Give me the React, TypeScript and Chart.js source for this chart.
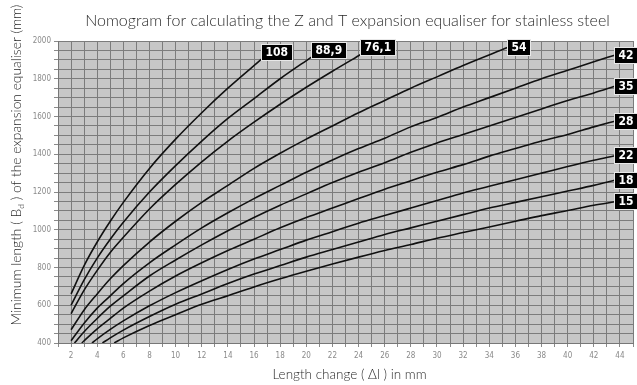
import React, { useEffect, useRef } from 'react';
import { Chart, registerables } from 'chart.js';

Chart.register(...registerables);

// ---- text ----
const TITLE = 'Nomogram for calculating the Z and T expansion equaliser for stainless steel';
const X_TITLE = 'Length change ( \u0394l ) in mm';
const Y_TITLE_MAIN = 'Minimum length ( B';
const Y_TITLE_SUB = 'd';
const Y_TITLE_END = ' ) of the expansion equaliser (mm)';

// ---- axes ----
const X_MIN = 1;
const X_MAX = 45;
const X_STEP = 1;
const X_LABEL_EVERY = 2;
const Y_MIN = 400;
const Y_MAX = 2000;
const Y_STEP = 50;
const Y_LABEL_EVERY = 200;

// ---- series: pipe outer diameter labels ----
const PIPE_SIZES = ['108', '88,9', '76,1', '54', '42', '35', '28', '22', '18', '15'];

// each series: [length change Δl (mm), minimum length Bd (mm)]
const S108: [number, number][] = [[2, 660], [3, 810], [4, 935], [5, 1045], [6, 1145], [8, 1325], [10, 1480], [12, 1620], [14, 1750], [16.6, 1905]];
const S88_9: [number, number][] = [[2, 600], [3, 735], [4, 850], [5, 950], [6, 1040], [8, 1200], [10, 1340], [12, 1470], [14, 1590], [16, 1695], [18, 1800], [20.4, 1915]];
const S76_1: [number, number][] = [[2, 555], [3, 680], [4, 785], [5, 880], [6, 960], [8, 1110], [10, 1240], [12, 1360], [14, 1470], [16, 1570], [18, 1665], [20, 1755], [22, 1840], [24.2, 1930]];
const S54: [number, number][] = [[2, 470], [3, 575], [4, 660], [5, 740], [6, 810], [8, 935], [10, 1045], [12, 1145], [14, 1235], [16, 1325], [18, 1405], [20, 1480], [22, 1550], [24, 1620], [26, 1685], [28, 1750], [30, 1810], [32, 1870], [35.4, 1965]];
const S42: [number, number][] = [[2, 412], [3, 505], [4, 585], [5, 650], [6, 715], [8, 825], [10, 920], [12, 1010], [14, 1090], [16, 1165], [18, 1235], [20, 1305], [22, 1370], [24, 1430], [26, 1485], [28, 1545], [30, 1595], [32, 1650], [34, 1700], [36, 1750], [38, 1800], [40, 1845], [42, 1890], [43.6, 1925]];
const S35: [number, number][] = [[2.26, 400], [3, 460], [4, 530], [5, 595], [6, 650], [8, 755], [10, 840], [12, 920], [14, 995], [16, 1065], [18, 1130], [20, 1190], [22, 1250], [24, 1305], [26, 1355], [28, 1410], [30, 1460], [32, 1505], [34, 1550], [36, 1595], [38, 1640], [40, 1685], [42, 1725], [43.6, 1760]];
const S28: [number, number][] = [[2.82, 400], [3, 412], [4, 475], [5, 530], [6, 585], [8, 675], [10, 755], [12, 825], [14, 890], [16, 950], [18, 1010], [20, 1065], [22, 1115], [24, 1165], [26, 1215], [28, 1260], [30, 1305], [32, 1345], [34, 1390], [36, 1430], [38, 1470], [40, 1505], [42, 1545], [43.6, 1575]];
const S22: [number, number][] = [[3.6, 400], [4, 422], [5, 472], [6, 517], [8, 597], [10, 667], [12, 730], [14, 790], [16, 845], [18, 895], [20, 945], [22, 990], [24, 1035], [26, 1075], [28, 1115], [30, 1155], [32, 1195], [34, 1230], [36, 1265], [38, 1300], [40, 1335], [42, 1368], [43.6, 1392]];
const S18: [number, number][] = [[4.4, 400], [5, 427], [6, 468], [8, 540], [10, 605], [12, 660], [14, 715], [16, 765], [18, 810], [20, 855], [22, 895], [24, 935], [26, 975], [28, 1010], [30, 1045], [32, 1080], [34, 1115], [36, 1145], [38, 1175], [40, 1205], [42, 1235], [43.6, 1262]];
const S15: [number, number][] = [[5.3, 400], [6, 427], [8, 493], [10, 550], [12, 605], [14, 650], [16, 697], [18, 740], [20, 780], [22, 818], [24, 855], [26, 890], [28, 922], [30, 955], [32, 985], [34, 1015], [36, 1045], [38, 1075], [40, 1102], [42, 1130], [43.6, 1148]];

const SERIES = [S108, S88_9, S76_1, S54, S42, S35, S28, S22, S18, S15];

// label box placement relative to line end (style only)
const LABEL_ANCHOR = ['bottom', 'bottom', 'bottom', 'middle', 'middle', 'middle', 'middle', 'middle', 'middle', 'middle'];

const FONT = 'Lato, "Open Sans", "DejaVu Sans", sans-serif';
const TICK_FONT = '"Liberation Sans Narrow", "DejaVu Sans Condensed", Arial, sans-serif';

const bgPlugin = {
  id: 'plotBg',
  beforeDraw(chart: any) {
    const { ctx, chartArea: a } = chart;
    ctx.save();
    ctx.fillStyle = '#c7c7c7';
    ctx.fillRect(a.left, a.top, a.right - a.left, a.bottom - a.top);
    ctx.restore();
  },
};

const labelPlugin = {
  id: 'endLabels',
  afterDatasetsDraw(chart: any) {
    const { ctx } = chart;
    ctx.save();
    ctx.font = 'bold 12px ' + TICK_FONT;
    chart.data.datasets.forEach((ds: any, i: number) => {
      const meta = chart.getDatasetMeta(i);
      const last = meta.data[meta.data.length - 1];
      if (!last) return;
      const text = PIPE_SIZES[i];
      const w = Math.round(ctx.measureText(text).width + 7);
      const h = 15;
      const x = Math.round(last.x);
      const top = LABEL_ANCHOR[i] === 'bottom' ? Math.round(last.y - h + 1) : Math.round(last.y - h / 2);
      ctx.fillStyle = '#000';
      ctx.fillRect(x, top, w, h);
      ctx.strokeStyle = '#e8e8e8';
      ctx.lineWidth = 1;
      ctx.strokeRect(x - 0.5, top - 0.5, w + 1, h + 1);
      ctx.fillStyle = '#fff';
      ctx.textAlign = 'left';
      ctx.textBaseline = 'middle';
      ctx.fillText(text, x + 3.5, top + h / 2 + 0.5);
    });
    ctx.restore();
  },
};

const titlePlugin = {
  id: 'titles',
  afterDraw(chart: any) {
    const { ctx, chartArea: a } = chart;
    ctx.save();
    ctx.fillStyle = '#2a2a2a';
    ctx.textAlign = 'center';
    ctx.textBaseline = 'middle';
    // main title
    ctx.font = '300 16px ' + FONT;
    ctx.fillText(TITLE, (a.left + a.right) / 2 + 2, 21);
    // x title
    ctx.font = '300 13.5px ' + FONT;
    ctx.fillText(X_TITLE, (a.left + a.right) / 2 + 4, 375);
    // y title with subscript
    const mainFont = '300 13.8px ' + FONT;
    const subFont = '300 8.5px ' + FONT;
    ctx.font = mainFont;
    const w1 = ctx.measureText(Y_TITLE_MAIN).width;
    const w3 = ctx.measureText(Y_TITLE_END).width;
    ctx.font = subFont;
    const w2 = ctx.measureText(Y_TITLE_SUB).width;
    const total = w1 + w2 + w3;
    ctx.translate(17, 165);
    ctx.rotate(-Math.PI / 2);
    ctx.textAlign = 'left';
    let cx = -total / 2;
    ctx.font = mainFont;
    ctx.fillText(Y_TITLE_MAIN, cx, 0);
    cx += w1;
    ctx.font = subFont;
    ctx.fillText(Y_TITLE_SUB, cx, 4);
    cx += w2;
    ctx.font = mainFont;
    ctx.fillText(Y_TITLE_END, cx, 0);
    ctx.restore();
  },
};

export default function App() {
  const ref = useRef<HTMLCanvasElement | null>(null);

  useEffect(() => {
    if (!ref.current) return;
    const chart = new Chart(ref.current, {
      type: 'line',
      data: {
        datasets: SERIES.map((s, i) => ({
          label: PIPE_SIZES[i],
          data: s.map(([x, y]) => ({ x, y })),
          borderColor: '#111',
          borderWidth: 1.6,
          pointRadius: 0,
          fill: false,
          cubicInterpolationMode: 'monotone' as const,
        })),
      },
      options: {
        responsive: false,
        animation: false,
        layout: { padding: { top: 41, left: 0, right: 0, bottom: 0 } },
        plugins: { legend: { display: false }, title: { display: false }, tooltip: { enabled: false } },
        scales: {
          x: {
            type: 'linear',
            min: X_MIN,
            max: X_MAX,
            afterFit: (s: any) => { s.height = 42; },
            ticks: {
              stepSize: X_STEP,
              autoSkip: false,
              maxRotation: 0,
              padding: 4,
              color: '#8a8a8a',
              font: { family: TICK_FONT, size: 8 },
              callback: (v: any) => (Number(v) % X_LABEL_EVERY === 0 && Number(v) >= 2 ? String(v) : ''),
            },
            grid: { color: '#7c7c7c', lineWidth: 1, tickLength: 4, tickColor: '#8a8a8a' },
            border: { color: '#777' },
          },
          y: {
            type: 'linear',
            min: Y_MIN,
            max: Y_MAX,
            afterFit: (s: any) => { s.width = 58; },
            ticks: {
              stepSize: Y_STEP,
              autoSkip: false,
              padding: 3,
              color: '#8a8a8a',
              font: { family: TICK_FONT, size: 8 },
              callback: (v: any) => (Number(v) % Y_LABEL_EVERY === 0 ? String(v) : ''),
            },
            grid: { color: '#7c7c7c', lineWidth: 1, tickLength: 4, tickColor: '#8a8a8a' },
            border: { color: '#777' },
          },
        },
      },
      plugins: [bgPlugin, labelPlugin, titlePlugin],
    });
    return () => chart.destroy();
  }, []);

  return (
    <div style={{ position: 'fixed', left: 0, top: 0, width: 637, height: 385, background: '#fff' }}>
      <canvas ref={ref} width={637} height={385} style={{ display: 'block' }} />
    </div>
  );
}
